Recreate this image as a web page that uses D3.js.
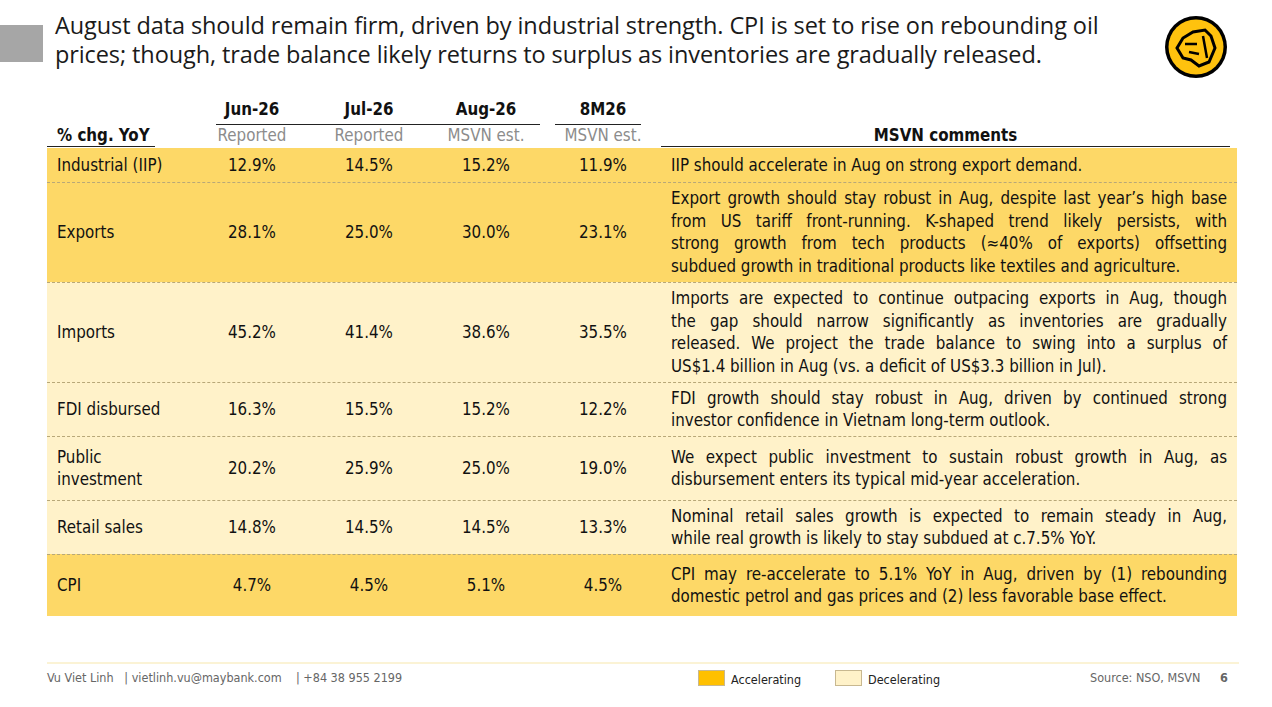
<!DOCTYPE html>
<html><head><meta charset="utf-8">
<script src="https://cdn.jsdelivr.net/npm/d3@7"></script>
<style>
body{margin:0;width:1272px;height:707px;background:#fff;position:relative;overflow:hidden;font-family:"DejaVu Sans Condensed","DejaVu Sans",sans-serif;}
.a{position:absolute;}
.t{font-family:"Open Sans",sans-serif;font-size:23.5px;color:#1a1a1a;line-height:29px;letter-spacing:-0.1px}
.c{font-size:16.8px;color:#111;}
.cl{position:absolute;left:671px;width:556px;line-height:22.5px;}
.cl div{text-align:justify;text-align-last:justify;white-space:nowrap;}
.cl div.last{text-align-last:left;}
</style></head><body>
<div class="a" style="left:0;top:25px;width:43px;height:37px;background:#a6a6a6"></div>
<div class="a t" style="left:55px;top:11px;width:1110px;white-space:nowrap">August data should remain firm, driven by industrial strength. CPI is set to rise on rebounding oil<br>prices; though, trade balance likely returns to surplus as inventories are gradually released.</div>
<svg class="a" style="left:1163px;top:14px" width="66" height="66"><circle cx="33" cy="33" r="31" fill="#000"/><circle cx="33" cy="33" r="27.5" fill="#FFC20E"/><path d="M14 34 L20 24 L30 18 L42 16 L48 22 L52 34 L46 48 L36 52 L28 46 L20 44 Z" fill="none" stroke="#000" stroke-width="3"/><path d="M22 30 L34 30 M26 38 L36 40 M40 22 L44 44" stroke="#000" stroke-width="2.5"/></svg>
<script>
const cols=["Jun-26","Jul-26","Aug-26","8M26"];
const sub=["Reported","Reported","MSVN est.","MSVN est."];
const indicators=["Industrial (IIP)","Exports","Imports","FDI disbursed","Public<br>investment","Retail sales","CPI"];
const jun=["12.9%","28.1%","45.2%","16.3%","20.2%","14.8%","4.7%"];
const jul=["14.5%","25.0%","41.4%","15.5%","25.9%","14.5%","4.5%"];
const aug=["15.2%","30.0%","38.6%","15.2%","25.0%","14.5%","5.1%"];
const ytd=["11.9%","23.1%","35.5%","12.2%","19.0%","13.3%","4.5%"];
const trend=["acc","acc","dec","dec","dec","dec","acc"];
const comments=[
["IIP should accelerate in Aug on strong export demand."],
["Export growth should stay robust in Aug, despite last year’s high base","from US tariff front-running. K-shaped trend likely persists, with","strong growth from tech products (≈40% of exports) offsetting","subdued growth in traditional products like textiles and agriculture."],
["Imports are expected to continue outpacing exports in Aug, though","the gap should narrow significantly as inventories are gradually","released. We project the trade balance to swing into a surplus of","US$1.4 billion in Aug (vs. a deficit of US$3.3 billion in Jul)."],
["FDI growth should stay robust in Aug, driven by continued strong","investor confidence in Vietnam long-term outlook."],
["We expect public investment to sustain robust growth in Aug, as","disbursement enters its typical mid-year acceleration."],
["Nominal retail sales growth is expected to remain steady in Aug,","while real growth is likely to stay subdued at c.7.5% YoY."],
["CPI may re-accelerate to 5.1% YoY in Aug, driven by (1) rebounding","domestic petrol and gas prices and (2) less favorable base effect."]];
const rowEdges=[148,182,282,382,436,500,554,616];
const colorOf={acc:"#FDD867",dec:"#FFF2C9"};
const x=d3.scalePoint().domain(cols).range([252,603]);
const body=d3.select("body");
const y=i=>rowEdges[i];
cols.forEach((c,i)=>{
 body.append("div").attr("class","a c").style("left",(x(c)-60)+"px").style("width","120px").style("text-align","center").style("top","99px").style("font-weight","bold").text(c);
 body.append("div").attr("class","a c").style("left",(x(c)-60)+"px").style("width","120px").style("text-align","center").style("top","125px").style("color","#8c8c8c").text(sub[i]);
});
body.append("div").attr("class","a c").style("left","57px").style("top","125px").style("font-weight","bold").text("% chg. YoY");
body.append("div").attr("class","a c").style("left","661px").style("width","569px").style("text-align","center").style("top","125px").style("font-weight","bold").text("MSVN comments");
const hl=(l,w,t,c)=>body.append("div").attr("class","a").style("left",l+"px").style("width",w+"px").style("top",t+"px").style("height","1.3px").style("background",c||"#222");
hl(216,324,124);hl(555,86,124);hl(47,108,146);hl(661,569,146);
indicators.forEach((ind,i)=>{
 const t=y(i),h=y(i+1)-y(i),mid=t+h/2;
 body.append("div").attr("class","a").style("left","47px").style("width","1190px").style("top",t+"px").style("height",h+"px").style("background",colorOf[trend[i]]);
 if(i>0) body.append("div").attr("class","a").style("left","47px").style("width","1190px").style("top",t+"px").style("border-top","1px dashed #b8a878");
 const lab=body.append("div").attr("class","a c").style("left","57px").style("line-height","22.5px").html(ind);
 const nl=ind.includes("<br>")?2:1;
 lab.style("top",(mid-nl*11.25)+"px");
 [jun,jul,aug,ytd].forEach((arr,j)=>{
  body.append("div").attr("class","a c").style("left",(x(cols[j])-60)+"px").style("width","120px").style("text-align","center").style("top",(mid-11.25)+"px").style("line-height","22.5px").text(arr[i]);
 });
 const cl=body.append("div").attr("class","cl c").style("top",(mid-comments[i].length*11.25)+"px");
 comments[i].forEach((ln,k)=>cl.append("div").attr("class",k===comments[i].length-1?"last":null).text(ln));
});
body.append("div").attr("class","a").style("left","47px").style("width","1192px").style("top","662px").style("height","2px").style("background","#FBF3D5");
const fs="font-size:12.5px;color:#666;top:670px";
body.append("div").attr("class","a").attr("style",fs+";left:47px;white-space:pre").text("Vu Viet Linh   | vietlinh.vu@maybank.com    | +84 38 955 2199");
const legend=[["Accelerating","#FFC000",698],["Decelerating","#FFF2C9",835]];
legend.forEach(l=>{
 body.append("div").attr("class","a").style("left",l[2]+"px").style("top","670px").style("width","27px").style("height","16px").style("background",l[1]).style("border","1px solid #c8b890").style("box-sizing","border-box");
 body.append("div").attr("class","a").attr("style","font-size:12.5px;color:#222;top:672px;left:"+(l[2]+33)+"px").text(l[0]);
});
body.append("div").attr("class","a").attr("style",fs+";left:1090px").text("Source: NSO, MSVN");
body.append("div").attr("class","a").attr("style",fs+";left:1220px;font-weight:bold").text("6");
</script>
</body></html>
